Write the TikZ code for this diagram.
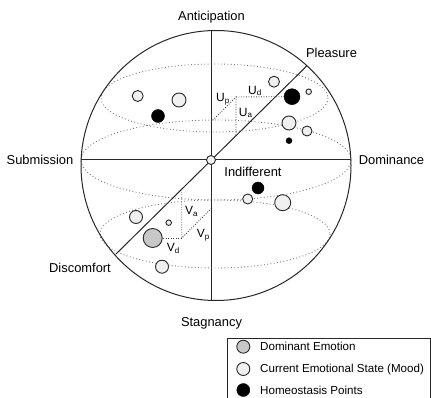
\documentclass[tikz,border=0pt]{standalone}
\usepackage{fontspec}
\setmainfont{Liberation Sans}
\definecolor{moodc}{RGB}{240,240,240}
\definecolor{domc}{RGB}{200,200,200}
\definecolor{latc}{RGB}{120,120,120}
\definecolor{linec}{RGB}{40,40,40}
\begin{document}
\begin{tikzpicture}[x=1pt,y=-1pt,
  lbl/.style={font=\fontsize{12.9}{14}\selectfont, inner sep=0pt},
  sublbl/.style={font=\fontsize{12}{13}\selectfont, inner sep=0pt},
  leg/.style={font=\fontsize{11.6}{13}\selectfont, inner sep=0pt, anchor=west},
  ptc/.style={circle, draw=linec, line width=0.9pt, inner sep=0pt, minimum size=#1},
  mood/.style={ptc=#1, fill=moodc},
  domi/.style={ptc=#1, fill=domc},
  home/.style={circle, fill=black, draw=black, inner sep=0pt, minimum size=#1},
  lat/.style={draw=latc, line width=0.9pt, dash pattern=on 0.9pt off 2.4pt},
  axis/.style={draw=linec, line width=1pt},
  comp/.style={line width=0.9pt, dash pattern=on 0.9pt off 1.6pt, draw=black!75}
]
\useasboundingbox (0,0) rectangle (431,398);

% latitude ellipses
\draw[lat] (214.5,98) ellipse [x radius=113.5, y radius=34];
\draw[lat] (216,160) ellipse [x radius=135, y radius=40];
\draw[lat] (215,234) ellipse [x radius=115, y radius=34];

% sphere
\draw[axis] (216,165.5) circle [radius=135];

% axes
\coordinate (top) at (211,31);
\coordinate (bot) at (211,300.4);
\coordinate (lft) at (81.1,160);
\coordinate (rgt) at (350.9,160);
\coordinate (pl) at (306.7,66);
\coordinate (dc) at (115.7,254.3);
\draw[axis] (top) -- (bot);
\draw[axis] (lft) -- (rgt);
\draw[axis] (pl) -- (dc);

% emotion points
\node[mood=11] (m1) at (137.7,96) {};
\node[mood=14] (m2) at (179,100) {};
\node[home=13] (h1) at (158,116) {};
\node[mood=11] (m3) at (274,81.7) {};
\node[home=16] (h2) at (292,96.7) {};
\node[mood=5.5] (m4) at (308.7,91.7) {};
\node[mood=14] (m5) at (289,123) {};
\node[mood=10] (m6) at (307,131) {};
\node[home=6] (h3) at (289,140.7) {};
\node[home=12] (h4) at (258,188) {};
\node[mood=10] (m7) at (247.7,199) {};
\node[mood=16] (m8) at (282.7,202.7) {};
\node[mood=13] (m9) at (136,217) {};
\node[mood=5.5] (m10) at (168.7,222.7) {};
\node[domi=19] (d1) at (152.7,238) {};
\node[mood=13] (m11) at (162,266.7) {};

% U components
\coordinate (u0) at (211,122);
\coordinate (u1) at (236,97);
\coordinate (u2) at (236,135);
\draw[comp] (u0) -- (u1) -- (u2);
\draw[comp] (u1) -- (h2.west);
\node[sublbl] (lup) at (223,99) {U\textsubscript{p}};
\node[sublbl] (lud) at (255,91) {U\textsubscript{d}};
\node[sublbl] (lua) at (245.7,113) {U\textsubscript{a}};

% V components
\coordinate (v1) at (181.7,189.3);
\coordinate (v2) at (181.7,238);
\coordinate (v3) at (211,208.7);
\draw[comp] (v1) -- (v2) -- (v3);
\draw[comp] (v2) -- (d1.east);
\node[sublbl] (lva) at (191.7,211.7) {V\textsubscript{a}};
\node[sublbl] (lvp) at (203.3,235) {V\textsubscript{p}};
\node[sublbl] (lvd) at (173.3,248.3) {V\textsubscript{d}};

% center
\node[mood=9] (ctr) at (211,160) {};

% axis labels
\node[lbl] (ant) at (211.5,17.5) {Anticipation};
\node[lbl] (ple) at (331.5,52.5) {Pleasure};
\node[lbl] (sub) at (40,160) {Submission};
\node[lbl] (dom) at (391.5,160) {Dominance};
\node[lbl] (ind) at (253,172) {Indifferent};
\node[lbl] (dis) at (80,268) {Discomfort};
\node[lbl] (stag) at (211.5,323) {Stagnancy};

% legend
\draw[axis] (227.5,402) -- (227.5,338.5) -- (430.5,338.5) -- (430.5,402);
\node[domi=13] (ld) at (243.3,346.7) {};
\node[mood=13] (lm) at (243.3,369) {};
\node[home=13] (lh) at (243.3,390) {};
\node[leg] (tld) at (260,346.7) {Dominant Emotion};
\node[leg] (tlm) at (260,369) {Current Emotional State (Mood)};
\node[leg] (tlh) at (260,390) {Homeostasis Points};
\end{tikzpicture}
\end{document}
